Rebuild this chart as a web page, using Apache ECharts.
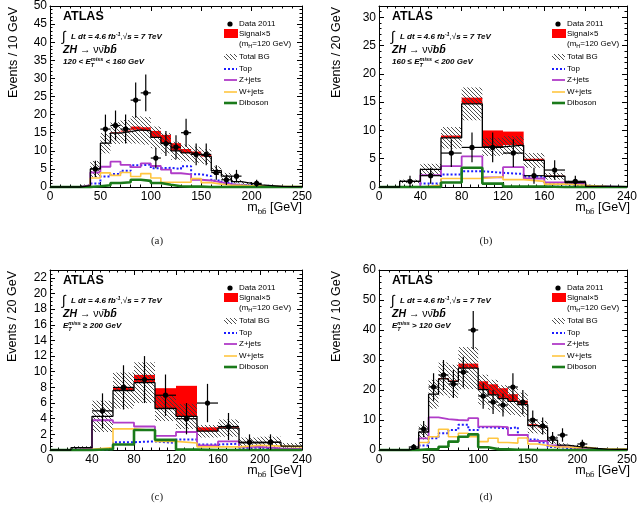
<!DOCTYPE html>
<html><head><meta charset="utf-8">
<script src="https://cdn.jsdelivr.net/npm/echarts@6/dist/echarts.min.js"></script>
<style>html,body{margin:0;padding:0;background:#fff}#c{width:640px;height:516px}</style>
</head><body><div id="c"></div>
<script>
// ================= DATA =================
// Panel (a): 120 < ETmiss < 160 GeV, 10 GeV bins, 0-250
const binWidthA = 10;
const totalBgA = [0,0,0,0.4,5.0,12.1,14.9,15.3,15.8,15.5,13.7,12.1,10.0,9.4,8.9,8.4,4.5,3.0,1.5,1.0,0.6,0.4,0.2,0.1,0.1];
const bgUncA   = [0,0,0,0.3,2.2,2.8,3.0,3.2,3.8,3.8,3.0,2.8,2.5,2.3,2.2,2.0,1.2,0.9,0.5,0.4,0.3,0.2,0.1,0.1,0.1];
const signalA  = [0,0,0,0,0,0,0.2,0.3,0.9,1.0,1.8,2.3,2.1,1.1,0.9,0.5,0.2,0,0,0,0,0,0,0,0];
const topA     = [0,0,0,0,1.0,2.9,3.6,4.5,6.0,6.2,5.2,5.3,5.0,5.7,3.5,3.0,1.8,1.2,0.6,0.4,0.2,0.1,0,0,0];
const zjetsA   = [0,0,0,0.5,4.0,5.6,7.0,6.1,5.5,6.5,5.8,4.8,3.8,3.5,2.0,1.8,1.3,0.8,0.5,0.3,0.2,0.1,0.1,0,0];
const wjetsA   = [0,0,0,0.2,2.5,3.9,3.2,4.0,2.9,3.7,2.5,1.3,1.3,1.3,2.3,1.2,0.8,0.5,0.5,0.3,0.3,0.2,0.1,0.1,0.1];
const dibosonA = [0,0,0,0,0.2,0.5,1.1,1.3,2.0,1.7,1.1,0.6,0.2,0.1,0.1,0,0,0,0,0,0,0,0,0,0];
const dataA    = [0,0,0,0,5,16,17,16,24,26,8,12,11,15,9,9,4,2,3,0,1,0,0,0,0];

// Panel (b): 160 <= ETmiss < 200 GeV, 20 GeV bins, 0-240
const binWidthB = 20;
const totalBgB = [0,1.0,3.1,8.7,14.7,7.1,7.4,4.7,1.9,0.8,0.1,0.05];
const bgUncB   = [0,0.3,1.0,1.9,2.9,1.6,1.6,1.3,0.6,0.3,0.1,0.05];
const signalB  = [0,0,0,0.4,1.1,2.9,2.4,0.3,0.1,0,0,0];
const topB     = [0,0,0.6,2.2,2.8,2.5,2.3,1.8,0.5,0.3,0,0];
const zjetsB   = [0,0,2.1,3.7,5.4,1.7,3.5,1.5,0.8,0.5,0.1,0];
const wjetsB   = [0,0,0.3,1.5,1.5,1.8,1.3,1.0,0.5,0.3,0.1,0];
const dibosonB = [0,0,0,0.8,3.4,0.6,0.1,0.1,0,0,0,0];
const dataB    = [0,1,2,6,7,7,6,2,3,1,0,0];

// Panel (c): ETmiss >= 200 GeV, 20 GeV bins, 0-240
const binWidthC = 20;
const totalBgC = [0,0.3,4.3,7.6,8.6,5.3,4.3,2.4,2.8,0.9,1.0,0.5];
const bgUncC   = [0,0.2,2.0,2.3,2.6,1.6,1.6,0.8,1.1,0.7,0.7,0.4];
const signalC  = [0,0,0,0.35,1.0,2.6,3.9,0.5,0.1,0,0,0];
const topC     = [0,0,0.1,1.0,1.1,0.9,1.35,0.7,0.8,0.3,0.1,0.1];
const zjetsC   = [0,0.2,3.8,3.5,3.0,1.8,2.3,0.6,1.1,0.4,0.2,0.1];
const wjetsC   = [0,0.1,0.3,2.7,2.5,1.1,0.9,0.4,0.4,0.6,0.5,0.4];
const dibosonC = [0,0,0.1,0.7,2.55,1.3,0.05,0,0,0,0,0];
const dataC    = [0,0,5,8,9,7,4,6,3,1,1,0];

// Panel (d): ETmiss > 120 GeV, 10 GeV bins, 0-250
const binWidthD = 10;
const totalBgD = [0,0,0,0.6,6.0,18.6,23.7,22.9,27.3,27.3,20.1,18.4,17.1,16.2,15.1,8.1,7.5,3.3,1.6,1.2,0.8,0.5,0.3,0.2,0.2];
const bgUncD   = [0,0,0,0.5,2.5,4.8,5.5,5.5,7.0,7.0,5.0,5.0,4.5,4.5,4.0,2.5,2.2,1.2,0.7,0.5,0.4,0.3,0.2,0.2,0.2];
const signalD  = [0,0,0,0,0,0,0.3,0.3,1.5,1.5,2.8,3.5,3.5,2.4,1.4,0.5,0.2,0,0,0,0,0,0,0,0];
const topD     = [0,0,0,0,1.5,3.9,5.6,6.7,8.4,6.7,7.6,7.4,7.2,7.6,5.0,3.5,2.5,1.0,0.7,0.4,0.2,0.1,0,0,0];
const zjetsD   = [0,0,0,0.3,3.9,10.9,10.3,10.0,9.9,10.6,7.8,7.8,7.6,5.0,5.0,3.0,3.0,1.5,1.0,0.7,0.4,0.2,0.1,0,0];
const wjetsD   = [0,0,0,0.1,2.5,4.4,6.9,4.4,5.6,4.4,2.8,3.9,2.5,2.3,4.0,2.0,1.5,1.0,1.0,0.8,0.9,0.5,0.3,0.3,0.3];
const dibosonD = [0,0,0,0,0.2,0.3,1.1,2.8,4.4,5.2,0.9,0.3,0.2,0.1,0.1,0,0,0,0,0,0,0,0,0,0];
const dataD    = [0,0,0,1,7,21,25,22,26,40,18,16,15,21,16,10,8,4,5,0,2,0,0,0,0];

// Axis ticks
const xTicksA = {max:250, interval:50};
const xTicksB = {max:240, interval:40};
const yTicksA = {max:50, interval:5, minor:5};
const yTicksB = {max:32, interval:5, minor:5};
const yTicksC = {max:23, interval:2, minor:4};
const yTicksD = {max:60, interval:10, minor:5};

// ================= STYLE / HELPERS =================
const FONT = "'Liberation Sans', Arial, Helvetica, sans-serif";
const COL = {top:'#1c1cff', zjets:'#b03cc8', wjets:'#ffc640', diboson:'#1a7a1a', signal:'#ff0000'};

function makeHatch(){
  const s = 4, c = document.createElement('canvas');
  c.width = s; c.height = s;
  const g = c.getContext('2d');
  g.strokeStyle = '#3a3a3a'; g.lineWidth = 0.9;
  g.beginPath();
  for (let k = -1; k <= 1; k++){ g.moveTo(k*s, 0); g.lineTo(k*s + s, s); }
  g.stroke();
  return c;
}
const hatchPattern = {image: makeHatch(), repeat: 'repeat'};

const mctx = document.createElement('canvas').getContext('2d');
function fontStr(p){ return (p.italic?'italic ':'') + (p.bold?'bold ':'') + p.size + 'px ' + (p.family||FONT); }
function measure(p){ mctx.font = fontStr(p); return mctx.measureText(p.t).width; }
function textEl(x, y, p, align){
  return {type:'text', x:x, y:y, silent:true, z:100, style:{
    text:p.t, fontSize:p.size, fontFamily:p.family||FONT,
    fontWeight:p.bold?'bold':'normal', fontStyle:p.italic?'italic':'normal',
    fill:p.color||'#000', align:align||'left', verticalAlign:'middle',
    textAlign:align||'left', textVerticalAlign:'middle'}};
}
function runs(x, y, parts, anchorRight){
  const widths = parts.map(p => p.stack ? Math.max.apply(null, p.stack.map(measure)) : measure(p));
  const total = widths.reduce((a,b)=>a+b, 0);
  let cx = anchorRight ? x - total : x;
  const els = [];
  parts.forEach((p,i) => {
    if (p.stack) p.stack.forEach(q => els.push(textEl(cx, y + (q.dy||0), q)));
    else els.push(textEl(cx, y + (p.dy||0), p));
    cx += widths[i];
  });
  return els;
}

function stepData(vals, w){
  const d = vals.map((v,i) => [i*w, v]);
  d.push([vals.length*w, vals[vals.length-1]]);
  return d;
}

const panels = [
  {L:50,  T:6,   W:252, H:181, bw:binWidthA, xt:xTicksA, yt:yTicksA, yTitle:'Events / 10 GeV', yTitleX:14, cap:'(a)',
   bg:totalBgA, unc:bgUncA, sig:signalA, top:topA, zj:zjetsA, wj:wjetsA, db:dibosonA, data:dataA,
   cut:[{t:'120 < '}, 'E', {t:' < 160 GeV'}]},
  {L:379, T:6,   W:251, H:181, bw:binWidthB, xt:xTicksB, yt:yTicksB, yTitle:'Events / 20 GeV', yTitleX:337, cap:'(b)',
   bg:totalBgB, unc:bgUncB, sig:signalB, top:topB, zj:zjetsB, wj:wjetsB, db:dibosonB, data:dataB,
   cut:[{t:'160 \u2264 '}, 'E', {t:' < 200 GeV'}]},
  {L:50,  T:270, W:252, H:180, bw:binWidthC, xt:xTicksB, yt:yTicksC, yTitle:'Events / 20 GeV', yTitleX:13, cap:'(c)',
   bg:totalBgC, unc:bgUncC, sig:signalC, top:topC, zj:zjetsC, wj:wjetsC, db:dibosonC, data:dataC,
   cut:['E', {t:' \u2265 200 GeV'}]},
  {L:379, T:270, W:251, H:180, bw:binWidthD, xt:xTicksA, yt:yTicksD, yTitle:'Events / 10 GeV', yTitleX:337, cap:'(d)',
   bg:totalBgD, unc:bgUncD, sig:signalD, top:topD, zj:zjetsD, wj:wjetsD, db:dibosonD, data:dataD,
   cut:['E', {t:' > 120 GeV'}]}
];

function bandRender(fill){
  return function(params, api){
    const a = api.coord([api.value(0), api.value(3)]);
    const b = api.coord([api.value(1), api.value(2)]);
    return {type:'rect', shape:{x:a[0], y:a[1], width:b[0]-a[0], height:b[1]-a[1]}, style:{fill:fill}};
  };
}
function dataRender(params, api){
  const x = api.value(0), v = api.value(1), lo = api.value(2), hi = api.value(3);
  const e = Math.sqrt(v);
  const c = api.coord([x, v]), t = api.coord([x, v+e]), b = api.coord([x, Math.max(0, v-e)]);
  const l = api.coord([lo, v]), r = api.coord([hi, v]);
  return {type:'group', children:[
    {type:'line', shape:{x1:c[0], y1:t[1], x2:c[0], y2:b[1]}, style:{stroke:'#000', lineWidth:1.2}},
    {type:'line', shape:{x1:l[0], y1:c[1], x2:r[0], y2:c[1]}, style:{stroke:'#000', lineWidth:1.2}},
    {type:'circle', shape:{cx:c[0], cy:c[1], r:2.6}, style:{fill:'#000'}}
  ]};
}

const option = {animation:false, grid:[], xAxis:[], yAxis:[], series:[], graphic:{elements:[]}};
const G = option.graphic.elements;

panels.forEach((p, i) => {
  option.grid.push({left:p.L, top:p.T, width:p.W, height:p.H, show:false});
  const line = {show:true, onZero:false, lineStyle:{color:'#000', width:1}};
  const tick = {show:true, inside:true, length:5, lineStyle:{color:'#000', width:1}};
  const lab = {show:true, color:'#000', fontSize:12, fontFamily:FONT, margin:3};
  const xBase = {gridIndex:i, type:'value', min:0, max:p.xt.max, interval:p.xt.interval,
    axisLine:line, axisTick:tick, splitLine:{show:false},
    minorTick:{show:true, splitNumber:5, length:2.5, lineStyle:{color:'#000', width:1}}};
  option.xAxis.push(Object.assign({}, xBase, {position:'bottom', axisLabel:Object.assign({}, lab, {margin:4})}));
  option.xAxis.push(Object.assign({}, xBase, {position:'top', axisLabel:{show:false}}));
  const yBase = {gridIndex:i, type:'value', min:0, max:p.yt.max, interval:p.yt.interval,
    axisLine:line, axisTick:tick, splitLine:{show:false},
    minorTick:{show:true, splitNumber:p.yt.minor, length:2.5, lineStyle:{color:'#000', width:1}}};
  option.yAxis.push(Object.assign({}, yBase, {position:'left', axisLabel:Object.assign({}, lab, {showMaxLabel: p.yt.max % p.yt.interval === 0})}));
  option.yAxis.push(Object.assign({}, yBase, {position:'right', axisLabel:{show:false}}));

  const xi = 2*i, yi = 2*i, w = p.bw;
  const sigData = [], hatchData = [], pts = [];
  p.bg.forEach((v, k) => {
    if (p.sig[k] > 0) sigData.push([k*w, (k+1)*w, v, v + p.sig[k]]);
    if (p.unc[k] > 0) hatchData.push([k*w, (k+1)*w, Math.max(0, v - p.unc[k]), v + p.unc[k]]);
    if (p.data[k] > 0) pts.push([k*w + w/2, p.data[k], k*w, (k+1)*w]);
  });
  option.series.push({type:'custom', xAxisIndex:xi, yAxisIndex:yi, z:2, silent:true,
    renderItem:bandRender(COL.signal), data:sigData, encode:{x:[0,1], y:[2,3]}});
  option.series.push({type:'custom', xAxisIndex:xi, yAxisIndex:yi, z:3, silent:true,
    renderItem:bandRender(hatchPattern), data:hatchData, encode:{x:[0,1], y:[2,3]}});
  const lines = [
    [p.top, COL.top, 2, [2,2]],
    [p.zj, COL.zjets, 1.8, 'solid'],
    [p.wj, COL.wjets, 1.6, 'solid'],
    [p.db, COL.diboson, 2.6, 'solid'],
    [p.bg, '#000', 1.3, 'solid']
  ];
  lines.forEach((L, j) => {
    option.series.push({type:'line', xAxisIndex:xi, yAxisIndex:yi, z:4+j, step:'end', symbol:'none',
      clip:false, silent:true, data:stepData(L[0], w),
      lineStyle:{color:L[1], width:L[2], type:L[3]}});
  });
  option.series.push({type:'custom', xAxisIndex:xi, yAxisIndex:yi, z:10, silent:true,
    renderItem:dataRender, data:pts, encode:{x:0, y:1}});

  // ---- annotations ----
  const L0 = p.L, T0 = p.T, R = p.L + p.W, B = p.T + p.H;
  G.push(textEl(L0+13, T0+11, {t:'ATLAS', size:12.5, bold:true}));
  G.push(textEl(L0+12, T0+31, {t:'\u222B', size:14}));
  runs(L0+21, T0+31, [
    {t:'L dt = 4.6 fb', size:8, bold:true, italic:true},
    {t:'-1', size:5.5, bold:true, italic:true, dy:-3},
    {t:',\u221A', size:8},
    {t:'s = 7 TeV', size:8, bold:true, italic:true}
  ]).forEach(e => G.push(e));
  runs(L0+13, T0+44, [
    {t:'ZH ', size:10.5, bold:true, italic:true},
    {t:'\u2192 \u03BD\u03BD\u0304', size:10.5},
    {t:'bb\u0304', size:10.5, bold:true, italic:true}
  ]).forEach(e => G.push(e));
  const cp = [];
  p.cut.forEach(c => {
    if (c === 'E') {
      cp.push({t:'E', size:8, bold:true, italic:true});
      cp.push({stack:[{t:'miss', size:5.5, bold:true, italic:true, dy:-3}, {t:'T', size:5.5, bold:true, italic:true, dy:3}]});
    } else cp.push({t:c.t, size:8, bold:true, italic:true});
  });
  runs(L0+13, T0+56, cp).forEach(e => G.push(e));

  // legend
  const xs = R - 78, xt = R - 63;
  G.push({type:'circle', silent:true, z:100, shape:{cx:R-72, cy:T0+18, r:2.6}, style:{fill:'#000'}});
  G.push(textEl(xt, T0+18, {t:'Data 2011', size:8}));
  G.push({type:'rect', silent:true, z:100, shape:{x:xs, y:T0+23, width:14, height:9}, style:{fill:COL.signal}});
  G.push(textEl(xt, T0+28, {t:'Signal\u00D75', size:8}));
  runs(xt, T0+38, [{t:'(m', size:8}, {t:'H', size:5.5, dy:2.5}, {t:'=120 GeV)', size:8}]).forEach(e => G.push(e));
  G.push({type:'rect', silent:true, z:100, shape:{x:xs, y:T0+48, width:13, height:6}, style:{fill:hatchPattern}});
  G.push(textEl(xt, T0+51, {t:'Total BG', size:8}));
  const leg = [['Top', COL.top, 2, [2,2], 63], ['Z+jets', COL.zjets, 1.8, null, 74],
               ['W+jets', COL.wjets, 1.6, null, 86], ['Diboson', COL.diboson, 2.6, null, 97]];
  leg.forEach(l => {
    G.push({type:'line', silent:true, z:100, shape:{x1:xs, y1:T0+l[4], x2:xs+13, y2:T0+l[4]},
      style:{stroke:l[1], lineWidth:l[2], lineDash:l[3]}});
    G.push(textEl(xt, T0+l[4], {t:l[0], size:8}));
  });

  // axis titles
  const yt = textEl(p.yTitleX, T0+1, {t:p.yTitle, size:12.5}, 'right');
  yt.rotation = Math.PI/2;
  G.push(yt);
  runs(R, B+21, [{t:'m', size:12.5}, {t:'bb\u0304', size:8, dy:4}, {t:' [GeV]', size:12.5}], true).forEach(e => G.push(e));
  G.push(textEl(p.L + 107, B + (i < 2 ? 54 : 47), {t:p.cap, size:11, family:"'Liberation Serif', 'DejaVu Serif', serif", color:'#222'}, 'center'));
});

const chart = echarts.init(document.getElementById('c'), null, {renderer:'canvas'});
chart.setOption(option);
</script>
</body></html>
